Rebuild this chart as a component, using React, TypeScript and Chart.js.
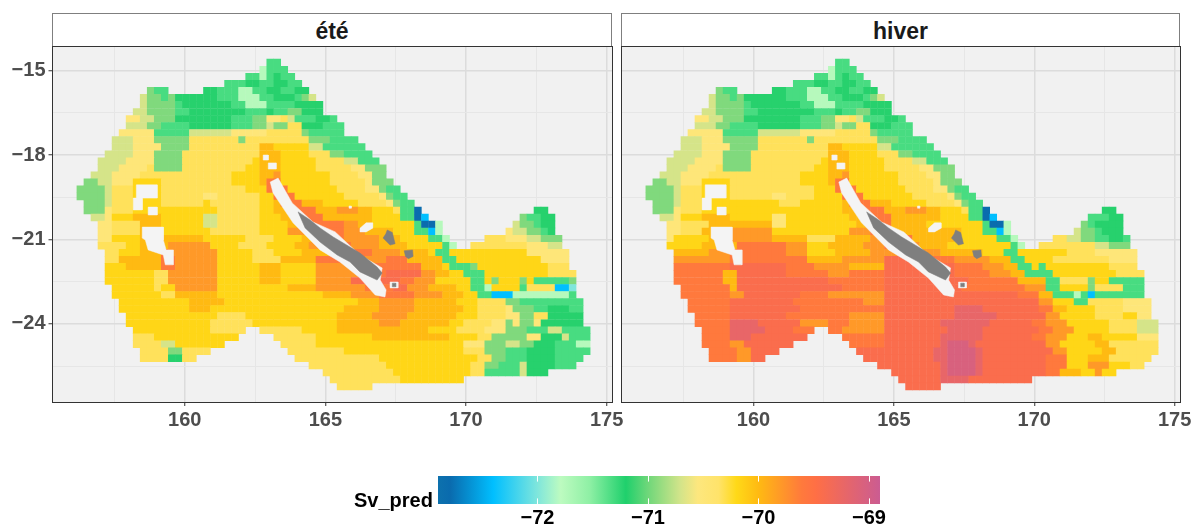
import React, { useEffect, useRef } from "react";
import { Chart, registerables } from "chart.js";

Chart.register(...registerables);

const FONT = '"Liberation Sans", Arial, sans-serif';

// value of each letter used in the raster rows below (Sv_pred, dB)
const levelCodes = "abcdefghijklmnopq";
const levelValues = [-72.8, -72.4, -72.0, -71.75, -71.32, -71.18, -70.95, -70.7, -70.5, -70.33, -70.18, -70.0, -69.8, -69.6, -69.42, -69.05, -69.22];

// colour scale stops
const scaleValues = [-72.9, -72.79, -72.4, -72, -71.79, -71.53, -71.2, -71, -70.71, -70.55, -70.36, -70.2, -70, -69.61, -69.48, -68.9];
const scaleColours = ["#0d71ad", "#0a6bae", "#00bfff", "#7fe6dc", "#bdfbc0", "#8ff0a5", "#1fd06c", "#6fd77a", "#d2e48a", "#fde77e", "#ffe36a", "#ffd918", "#ffba12", "#ff7a3c", "#ff6f45", "#cb5c92"];
const scaleTicks = [-72, -71, -70, -69];

const xTicks = [157.5, 160, 162.5, 165, 167.5, 170, 172.5, 175];
const xMajor = [160, 165, 170, 175];
const yTicks = [-15, -16.5, -18, -19.5, -21, -22.5, -24, -25.5];
const yMajor = [-15, -18, -21, -24];

// raster rows, run-length coded: letter + number of cells, ".n" = n empty cells
const northRows = [
  ".30 e2",
  ".29 d1 e3",
  ".27 e2 d1 e1 f1 e2",
  ".24 e3 f2 e2 f2 e2",
  ".13 g1 e2 .5 f2 e3 d2 e2 f2 e2 f2",
  ".12 h1 g2 e1 g1 f6 e3 d3 e2 f3 e1 g1 h1",
  ".12 h1 g4 e1 f7 e2 d3 e2 e2 f4",
  ".11 h2 g4 e2 f8 e3 f1 e2 g2 f3",
  ".10 i2 h2 g3 f8 e3 g2 i2 j1 h1 e3 f2 e1",
  ".10 h3 g2 e4 f6 e3 g2 h1 g2 j2 f3 e3",
  ".9 i5 e5 h6 i5 j5 g1 e5",
  ".8 h3 i3 g5 j7 g1 j9 g3 e4",
  ".8 h3 i4 g4 j10 l2 k5 h2 e6",
  ".7 h4 i3 g4 j11 l3 k4 j3 g2 e4",
  ".6 h4 i4 g4 j10 k1 l3 k5 j4 h2 e3",
  ".6 h3 i4 j1 g4 j9 k2 l3 k5 j5 i2 g3",
  ".5 h3 i4 j13 k4 l2 m1 k7 j4 i2 g2",
];

const summerSouthRows = [
  ".4 g2 h2 i3 k4 j10 k4 l1 n2 k7 j5 i1 g3",
  ".3 g4 h1 j3 k4 j12 k3 n3 k7 j4 i2 g1 e2",
  ".3 g4 h1 j3 k4 j6 i2 j6 k2 n3 k7 j5 i1 g1 e2",
  ".4 g3 h1 j3 k4 j6 k1 j7 k2 l1 n3 l3 k5 j4 i1 g1 e2",
  ".4 g3 i1 j3 k4 k8 j6 k2 l2 n4 l3 m3 l2 k3 j1 e2 a1 .16 f2",
  ".5 h2 i1 k3 l4 k6 h2 j6 k3 l3 n3 l7 k4 e2 a1 b1 .13 g1 e2 f2",
  ".6 i2 j4 l3 k6 h2 j6 k4 l2 n6 m2 l2 k6 e1 a2 d1 .10 h1 g2 e1 f2",
  ".6 i2 j4 l3 k7 j7 k4 m3 n5 m3 l4 k3 e2 b1 d1 .9 i1 h2 g2 e1 f1",
  ".6 i2 k4 l9 k6 j4 k4 l2 n4 m5 l3 k4 e2 d1 .5 j3 i3 h2 g3",
  ".6 j4 k2 l4 m6 k4 j4 k4 l2 m3 n3 m4 l4 k4 k1 e1 d1 .2 j8 i3 h2",
  ".7 j2 k3 l3 n1 m7 k5 j3 k4 l5 n5 m4 l4 k1 e2 k11 i6",
  ".7 j2 l6 n2 m6 k5 j4 l5 n7 m3 n3 l5 e2 k12 i4",
  ".7 k3 l5 n2 m6 k6 l3 k5 m5 n10 l3 k1 e3 g1 k10 j3",
  ".7 k7 j2 m7 k6 l3 k5 m6 n4 o5 m2 l2 k2 e3 k9 j4",
  ".7 k7 j2 m7 k6 l3 k5 m5 o7 n2 m3 k5 e2 k1 g1 k3 g1 k1 e5 g1",
  ".8 k6 j1 k2 m6 k10 l4 m7 n4 o2 m3 l4 k2 e2 d1 k4 e1 j4 b2 c1",
  ".8 k7 j2 l6 k15 l4 m4 n5 m4 l3 k2 e2 b3 d3 d5 e1",
  ".9 k10 l5 k19 l3 m5 l6 k3 j4 g2 e9",
  ".9 k10 l3 k19 l5 m5 l5 l2 k2 j4 i1 g3 e2 f3 e2",
  ".10 k13 j4 k13 l5 m5 l7 k3 j4 i2 g2 j2 f5",
  ".10 k12 j6 k12 l6 m3 l7 k2 j4 i2 g1 i1 g2 i1 f6",
  ".11 k11 j5 .2 j6 k5 l13 k4 j4 i3 g3 e3 h2 e4",
  ".11 j3 k12 .5 j6 k8 l11 k4 j2 g5 i2 f3 h1 e3",
  ".11 j4 h2 k7 .8 j5 k21 i3 g3 h2 g2 f3 e3 d2",
  ".12 j4 g2 j4 .11 j8 k17 j3 g3 e3 f4 e5",
  ".12 j4 f2 j2 .14 j12 k14 j2 g2 e3 f4 e4",
  ".36 j11 k12 j2 g2 e3 h1 f4 e3",
  ".38 j10 k11 j2 e5 h1 f3",
  ".39 j10 k9",
  ".40 j5",
];

const winterSouthRows = [
  ".4 g2 h2 i3 k4 j10 k4 l1 n2 k7 j5 i1 g3",
  ".3 g4 h1 j3 k4 j12 k3 n3 k7 j4 i2 g1 e2",
  ".3 g4 h1 j3 k4 j6 i2 j4 k4 n3 k7 j5 i1 g1 e2",
  ".4 g3 h1 j3 k4 k6 k1 j3 k6 l1 n3 l3 k5 j4 i1 g1 e2",
  ".4 g3 i1 j3 k4 k14 k2 l2 n4 l3 m3 l2 k3 j1 e2 a1 .16 f2",
  ".5 h2 i1 k3 l4 k6 i2 k6 k3 l3 n3 l7 k4 e2 a1 b1 .13 e3 f2",
  ".6 i2 j4 l3 l6 i2 k6 k4 l2 n3 l3 l2 k8 e1 a2 d1 .10 g1 e1 f4",
  ".6 i2 j3 l3 m7 k7 k4 m3 n3 l3 l7 k3 e2 b1 d1 .9 h1 g2 e1 f3",
  ".6 i1 k5 l3 m6 l5 j4 l5 m2 n4 l6 k6 e2 d1 .5 j2 h2 g2 e2 f2 e1",
  ".6 k5 l1 l4 n7 m3 k3 l5 m3 n2 m3 l4 k5 k3 k1 e1 d1 .2 j8 h2 g3",
  ".7 l5 m3 n8 m3 k4 l5 m4 n2 m4 l6 k3 e2 k7 j4 i6",
  ".7 m8 n8 n3 l5 m6 o5 n5 m5 l3 e2 k4 j8 i4",
  ".7 n8 o8 n4 m5 l5 o5 o5 n4 m3 l2 e2 k1 e1 k9 j4",
  ".7 n7 l2 o7 n6 m3 n5 o6 o4 n5 m3 l2 e4 k9 j4",
  ".7 n7 l2 o7 o6 n5 n3 o7 o5 n3 n4 l4 e2 j4 g1 k2 e5",
  ".8 n7 l1 o7 o8 n6 o8 o3 n9 m3 e2 k4 g1 j4 e3",
  ".8 n7 m2 o8 n4 m8 o9 o5 o5 n3 l2 e3 d1 e1 b1 e2 e5",
  ".9 n6 o9 n3 n7 m3 o8 o6 o8 m2 k3 e2 j5 i4",
  ".9 n6 o10 n6 n6 o10 q4 o8 n2 l2 k4 j4 i4",
  ".10 n5 o8 n4 n5 m5 o10 q6 o7 m2 k5 j4 k2 i2",
  ".10 n5 q4 o6 m4 n3 m5 o8 q7 o6 n2 m3 k6 j4 h3",
  ".11 n4 q5 o4 n3 .2 n2 m6 o9 q5 o8 n2 m3 k5 j4 h3",
  ".11 n4 q3 o8 .5 n6 o8 q6 o7 n2 m3 k3 l2 k5 i3",
  ".11 n4 m2 o7 .8 n5 o8 q1 p3 q1 o10 m2 k5 l2 j7",
  ".12 n4 m2 o4 .11 o4 o7 q2 p4 q1 o10 m2 k5 l2 j6",
  ".12 n4 m2 o2 .14 o10 q2 p4 q1 o9 n3 k3 l3 j6",
  ".36 o9 q1 p4 q1 o9 n3 k3 m3 k3 j2",
  ".38 o7 q1 p4 q1 o9 n2 l3 k2 m1 k2",
  ".39 o6 q4 o9",
  ".40 o5",
];

const summerRows = [...northRows, ...summerSouthRows];
const winterRows = [...northRows, ...winterSouthRows];

// raster grid origin and step, degrees
const firstLon = 155.54;
const firstLat = -14.72;
const cellDeg = 0.25;

// outlines (lon, lat): reef gaps in the raster and emerged land
const reefGaps = [
  [163.04, -18.96, 163.32, -18.82, 163.82, -19.7, 164.56, -20.38, 165.35, -20.73, 166.23, -21.55, 167.02, -22.01, 166.95, -22.44, 167.16, -22.79, 167.12, -23.04, 166.77, -22.97, 166.23, -22.37, 165.52, -21.8, 164.81, -21.37, 163.85, -20.41, 163.14, -19.35],
  [158.28, -19.06, 159.02, -19.06, 159.02, -19.53, 158.49, -19.53, 158.49, -19.95, 158.17, -19.95, 158.17, -19.53, 158.28, -19.53],
  [158.7, -19.85, 159.02, -19.85, 159.02, -20.13, 158.7, -20.13],
  [158.49, -20.56, 159.24, -20.56, 159.24, -21.02, 159.34, -21.37, 159.59, -21.37, 159.59, -21.9, 159.31, -21.9, 159.24, -21.55, 158.7, -21.37, 158.6, -21.02, 158.49, -20.95],
  [162.79, -18.0, 162.97, -18.0, 162.97, -18.18, 162.79, -18.18],
  [162.97, -18.28, 163.25, -18.28, 163.25, -18.5, 162.97, -18.5],
  [166.23, -20.6, 166.45, -20.41, 166.68, -20.41, 166.68, -20.6, 166.45, -20.73, 166.23, -20.73],
  [167.3, -22.51, 167.58, -22.51, 167.58, -22.72, 167.3, -22.72],
  [165.84, -19.81, 165.92, -19.81, 165.92, -19.89, 165.84, -19.89],
];
const landShapes = [
  [164.03, -20.02, 164.46, -20.31, 164.81, -20.59, 165.28, -20.91, 166.23, -21.48, 166.84, -21.98, 167.02, -22.19, 166.84, -22.44, 166.23, -22.15, 165.88, -21.8, 165.42, -21.55, 164.81, -21.09, 164.28, -20.59],
  [167.2, -20.66, 167.38, -20.75, 167.48, -21.15, 167.3, -21.2, 167.05, -20.95, 167.15, -20.8],
  [167.8, -21.4, 168.1, -21.37, 168.12, -21.6, 167.95, -21.68, 167.85, -21.6],
  [167.38, -22.55, 167.5, -22.55, 167.5, -22.68, 167.38, -22.68],
];

const hexToRgb = (h: string) => [1, 3, 5].map((i) => parseInt(h.slice(i, i + 2), 16));

function colourOf(v: number): string {
  let k = 0;
  while (k < scaleValues.length - 2 && v > scaleValues[k + 1]) k++;
  const t = Math.min(1, Math.max(0, (v - scaleValues[k]) / (scaleValues[k + 1] - scaleValues[k])));
  const a = hexToRgb(scaleColours[k]);
  const b = hexToRgb(scaleColours[k + 1]);
  return `rgb(${a.map((c, i) => Math.round(c + (b[i] - c) * t)).join(",")})`;
}

function rasterDataset(rows: string[]) {
  const data: { x: number; y: number }[] = [];
  const colours: string[] = [];
  rows.forEach((row, j) => {
    let col = 0;
    row.split(" ").forEach((tok) => {
      const n = parseInt(tok.slice(1), 10);
      const idx = levelCodes.indexOf(tok[0]);
      for (let c = 0; c < n; c++) {
        if (idx >= 0) {
          data.push({ x: firstLon + col * cellDeg, y: firstLat - j * cellDeg });
          colours.push(colourOf(levelValues[idx]));
        }
        col++;
      }
    });
  });
  return {
    type: "scatter",
    data,
    pointStyle: "rect",
    pointRadius: 5.3,
    pointBorderWidth: 0,
    pointBackgroundColor: colours,
    showLine: false,
    order: 3,
  };
}

function shapeDataset(coords: number[], colour: string, order: number) {
  const data: { x: number; y: number }[] = [];
  for (let i = 0; i < coords.length; i += 2) data.push({ x: coords[i], y: coords[i + 1] });
  data.push({ x: coords[0], y: coords[1] });
  return {
    type: "scatter",
    data,
    showLine: true,
    fill: "shape",
    tension: 0,
    borderWidth: 0.5,
    borderColor: colour,
    backgroundColor: colour,
    pointRadius: 0,
    order,
  };
}

const panelBackground = {
  id: "panelBackground",
  beforeDraw(chart: any) {
    const { ctx, chartArea: a } = chart;
    ctx.save();
    ctx.fillStyle = "#f1f1f1";
    ctx.fillRect(a.left, a.top, a.right - a.left, a.bottom - a.top);
    ctx.restore();
  },
};

const legendTicks = {
  id: "legendTicks",
  afterDatasetsDraw(chart: any) {
    const { ctx, chartArea: a, scales } = chart;
    ctx.save();
    ctx.strokeStyle = "#ffffff";
    ctx.lineWidth = 1;
    scaleTicks.forEach((v) => {
      const x = Math.round(scales.x.getPixelForValue(v)) + 0.5;
      ctx.beginPath();
      ctx.moveTo(x, a.top);
      ctx.lineTo(x, a.top + 5.6);
      ctx.moveTo(x, a.bottom - 5.6);
      ctx.lineTo(x, a.bottom);
      ctx.stroke();
    });
    ctx.restore();
  },
};

const minus = (v: number) => String(v).replace("-", "\u2212");

function panelConfig(rows: string[], showY: boolean, leftW: number, rightPad: number): any {
  return {
    type: "scatter",
    data: {
      datasets: [
        ...landShapes.map((s) => shapeDataset(s, "#7f7f7f", 1)),
        ...reefGaps.map((s) => shapeDataset(s, "#f4f4f4", 2)),
        rasterDataset(rows),
      ],
    },
    plugins: [panelBackground],
    options: {
      animation: false,
      responsive: false,
      events: [],
      layout: { padding: { top: 6, right: rightPad, bottom: 0, left: 0 } },
      plugins: { legend: { display: false }, tooltip: { enabled: false }, title: { display: false } },
      scales: {
        x: {
          type: "linear",
          min: 155.3,
          max: 175.19,
          afterBuildTicks: (axis: any) => {
            axis.ticks = xTicks.map((value) => ({ value }));
          },
          afterFit: (scale: any) => {
            scale.height = 38;
            scale.paddingLeft = 0;
            scale.paddingRight = 0;
          },
          border: { display: false },
          grid: {
            color: (c: any) => (xMajor.includes(c.tick?.value) ? "#dcdcdc" : "#e6e6e6"),
            lineWidth: (c: any) => (xMajor.includes(c.tick?.value) ? 1.5 : 1),
            tickColor: (c: any) => (xMajor.includes(c.tick?.value) ? "#333333" : "rgba(0,0,0,0)"),
            tickLength: 4,
            tickWidth: 1,
          },
          ticks: {
            autoSkip: false,
            maxRotation: 0,
            padding: 2,
            color: "#4d4d4d",
            font: { family: FONT, weight: "bold", size: 20 },
            callback: (v: number) => (xMajor.includes(v) ? String(v) : ""),
          },
        },
        y: {
          type: "linear",
          min: -26.77,
          max: -14.13,
          afterBuildTicks: (axis: any) => {
            axis.ticks = yTicks.map((value) => ({ value }));
          },
          afterFit: (scale: any) => {
            scale.width = leftW;
            scale.paddingTop = 0;
            scale.paddingBottom = 0;
          },
          border: { display: false },
          grid: {
            color: (c: any) => (yMajor.includes(c.tick?.value) ? "#dcdcdc" : "#e6e6e6"),
            lineWidth: (c: any) => (yMajor.includes(c.tick?.value) ? 1.5 : 1),
            tickColor: (c: any) => (showY && yMajor.includes(c.tick?.value) ? "#333333" : "rgba(0,0,0,0)"),
            tickLength: 4,
            tickWidth: 1,
          },
          ticks: {
            autoSkip: false,
            padding: 3,
            color: "#4d4d4d",
            font: { family: FONT, weight: "bold", size: 20 },
            callback: (v: number) => (showY && yMajor.includes(v) ? minus(v) : ""),
          },
        },
      },
    },
  };
}

function legendConfig(): any {
  const lo = scaleValues[0];
  const hi = scaleValues[scaleValues.length - 1];
  return {
    type: "bar",
    data: {
      labels: ["Sv_pred"],
      datasets: [
        {
          data: [[lo, hi]],
          barPercentage: 1,
          categoryPercentage: 1,
          borderWidth: 0,
          backgroundColor: (c: any) => {
            const s = c.chart.scales.x;
            const x0 = s ? s.getPixelForValue(lo) : NaN;
            const x1 = s ? s.getPixelForValue(hi) : NaN;
            if (!c.chart.chartArea || !Number.isFinite(x0) || !Number.isFinite(x1)) return "#ffd918";
            const g = c.chart.ctx.createLinearGradient(x0, 0, x1, 0);
            scaleValues.forEach((v, i) => g.addColorStop((v - lo) / (hi - lo), scaleColours[i]));
            return g;
          },
        },
      ],
    },
    plugins: [legendTicks],
    options: {
      indexAxis: "y",
      animation: false,
      responsive: false,
      events: [],
      layout: { padding: { left: 38, right: 40, top: 0, bottom: 0 } },
      plugins: { legend: { display: false }, tooltip: { enabled: false } },
      scales: {
        x: {
          type: "linear",
          min: lo,
          max: hi,
          afterBuildTicks: (axis: any) => {
            axis.ticks = scaleTicks.map((value) => ({ value }));
          },
          afterFit: (scale: any) => {
            scale.height = 20;
            scale.paddingLeft = 0;
            scale.paddingRight = 0;
          },
          border: { display: false },
          grid: { display: false, drawTicks: false },
          ticks: {
            autoSkip: false,
            maxRotation: 0,
            padding: 2,
            color: "#000000",
            font: { family: FONT, weight: "bold", size: 20 },
            callback: (v: number) => minus(v),
          },
        },
        y: { display: false },
      },
    },
  };
}

const stripStyle: React.CSSProperties = {
  position: "absolute",
  top: 13,
  height: 33,
  boxSizing: "border-box",
  border: "1px solid #7f7f7f",
  borderBottom: "none",
  background: "#ffffff",
  font: `bold 23px ${FONT}`,
  color: "#1a1a1a",
  textAlign: "center",
  lineHeight: "34px",
};
const borderStyle: React.CSSProperties = {
  position: "absolute",
  top: 46,
  height: 357,
  boxSizing: "border-box",
  border: "1.5px solid #333333",
  pointerEvents: "none",
};

export default function App() {
  const leftRef = useRef<HTMLCanvasElement>(null);
  const rightRef = useRef<HTMLCanvasElement>(null);
  const legendRef = useRef<HTMLCanvasElement>(null);

  useEffect(() => {
    const charts = [
      new Chart(leftRef.current!, panelConfig(summerRows, true, 52.5, 18)),
      new Chart(rightRef.current!, panelConfig(winterRows, false, 51.5, 23)),
      new Chart(legendRef.current!, legendConfig()),
    ];
    return () => charts.forEach((c) => c.destroy());
  }, []);

  return (
    <div style={{ position: "absolute", left: 0, top: 0, width: 1203, height: 524, overflow: "hidden", background: "#fff" }}>
      <div style={{ ...stripStyle, left: 52, width: 560 }}>été</div>
      <div style={{ ...stripStyle, left: 621, width: 559 }}>hiver</div>
      <canvas ref={leftRef} width={630} height={400} style={{ position: "absolute", left: 0, top: 40 }} />
      <canvas ref={rightRef} width={633} height={400} style={{ position: "absolute", left: 570, top: 40 }} />
      <div style={{ ...borderStyle, left: 52, width: 561 }} />
      <div style={{ ...borderStyle, left: 621, width: 560 }} />
      <canvas ref={legendRef} width={520} height={48} style={{ position: "absolute", left: 400, top: 476 }} />
      <div style={{ position: "absolute", left: 354, top: 489, font: `bold 20px ${FONT}`, color: "#000" }}>Sv_pred</div>
    </div>
  );
}
